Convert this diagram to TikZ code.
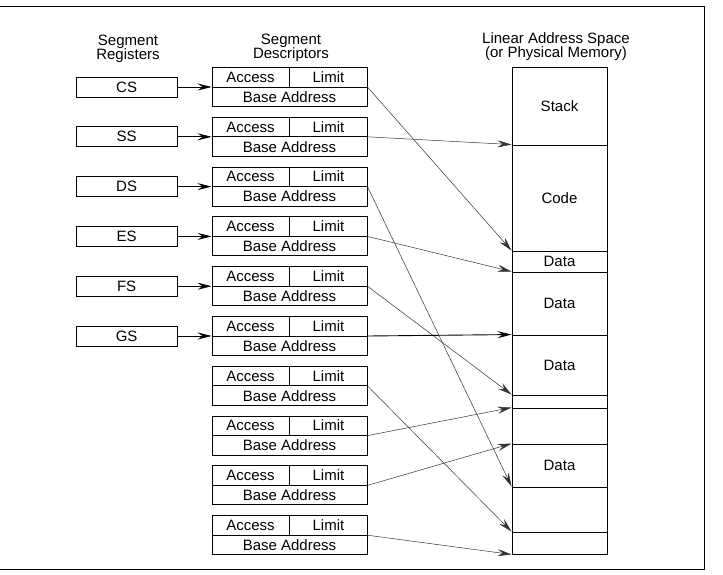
\documentclass[tikz,border=0pt]{standalone}
\usepackage{fontspec}
\setmainfont{Liberation Sans}
\usetikzlibrary{arrows.meta,positioning,calc}

\begin{document}
\begin{tikzpicture}[x=1pt, y=-1pt,
    every node/.style={font=\fontsize{15pt}{14pt}\selectfont, inner sep=0pt},
    reg/.style={draw, line width=0.9pt, minimum width=101pt, minimum height=20pt},
    desc/.style={draw, line width=0.9pt, minimum width=155pt, minimum height=39pt},
    memseg/.style={draw, line width=0.9pt, minimum width=95pt, text height=10.5pt, text depth=0pt},
    field/.style={text height=10.5pt, text depth=0pt},
    head/.style={align=center},
    load/.style={->, line width=0.9pt},
    link/.style={->, line width=0.5pt, draw=black!80},
    >={Stealth[length=14pt, width=7pt, inset=5pt]}
]
\useasboundingbox (0,0) rectangle (723,574);

% frame
\draw[line width=1pt] (0,6.5) -- (704,6.5) -- (704,569) -- (0,569);

% column headings
\node[head] (hreg) at (128,49) {Segment\\Registers};
\node[head] (hdesc) at (291,48) {Segment\\Descriptors};
\node[head] (hmem) at (556,47) {Linear Address Space\\(or Physical Memory)};

% segment descriptors
\foreach \i in {1,...,10} {
  \node[desc] (d\i) at (289.5, {87+49.8*(\i-1)}) {};
  \draw[line width=0.9pt] (d\i.west) -- (d\i.east);
  \draw[line width=0.9pt] (d\i.north) -- (d\i.center);
  \node[field] at ($(d\i.north west)!0.5!(d\i.center)$) {Access};
  \node[field] at ($(d\i.north east)!0.5!(d\i.center)$) {Limit};
  \node[field] at ($(d\i.center)!0.5!(d\i.south)$) {Base Address};
}

% segment registers
\foreach \r [count=\i] in {CS,SS,DS,ES,FS,GS} {
  \node[reg, left=34pt of d\i] (r\i) {\r};
  \draw[load] (r\i) -- (d\i);
}

% linear address space
\foreach \top/\bot/\txt [count=\k] in {67/145/Stack, 145/251/Code, 251/272/Data,
    272/335/Data, 335/395/Data, 395/408/, 408/444/, 444/487/Data, 487/532/, 532/554/} {
  \node[memseg, minimum height={(\bot-\top)*1pt}] (m\k) at (559.5, {(\top+\bot)/2}) {\txt};
}

% descriptor base addresses
\foreach \i/\k in {1/3, 2/2, 3/9, 4/4, 5/6, 7/10, 8/7, 9/8}
  \draw[link] (d\i.east) -- (m\k.north west);
\draw[load] (d6.east) -- (m5.north west);
\draw[link] (d10.east) -- (m10.south west);
\end{tikzpicture}
\end{document}
